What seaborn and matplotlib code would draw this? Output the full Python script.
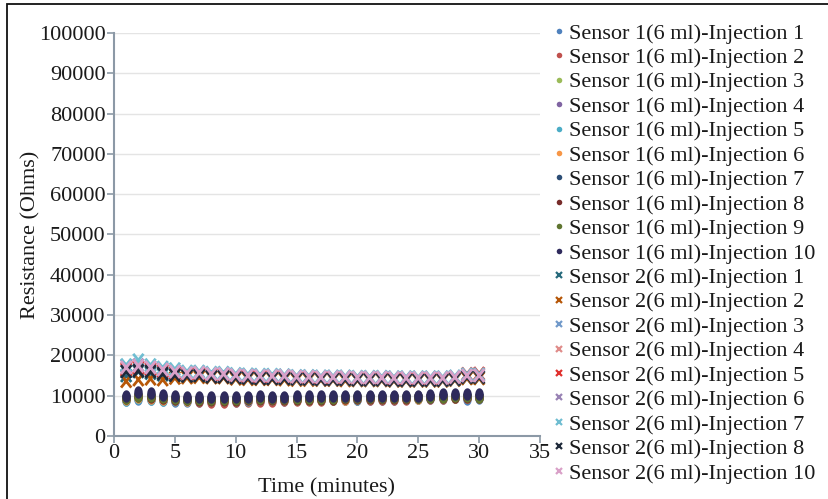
import numpy as np
import pandas as pd
import matplotlib
matplotlib.use("Agg")
import matplotlib.pyplot as plt
from matplotlib.path import Path
from matplotlib.patches import Rectangle
from matplotlib.lines import Line2D
import seaborn as sns

sns.set_theme(style="white")
plt.rcParams['font.family'] = ['Liberation Serif', 'DejaVu Serif']

minutes = list(range(1, 31))

s1_labels = [f"Sensor 1(6 ml)-Injection {i}" for i in range(1, 11)]
s2_labels = [f"Sensor 2(6 ml)-Injection {i}" for i in [1, 2, 3, 4, 5, 6, 7, 8, 10]]

s1_colors = ["#4F81BD", "#C0504D", "#9BBB59", "#8064A2", "#4BACC6",
             "#F79646", "#2C4D75", "#772C2A", "#5F7530", "#2E2A5C"]
s2_colors = ["#276A7C", "#B65708", "#729ACA", "#E08C8A", "#E0302D",
             "#9983B5", "#6FBDD1", "#1F2A3A", "#D9A0C8"]

s1_values = [
    [8900, 9300, 9100, 8900, 8800, 8700, 8800, 8700, 8800, 8800, 8900, 9000, 9000, 9000, 9100, 9100, 9100, 9200, 9200, 9200, 9300, 9300, 9300, 9400, 9400, 9500, 9500, 9600, 9300, 9500],
    [9200, 9600, 9400, 9200, 9000, 8900, 8600, 8500, 8500, 8600, 8700, 8800, 8800, 8900, 8900, 9000, 9000, 9100, 9100, 9100, 9200, 9200, 9300, 9300, 9400, 9500, 9500, 9600, 9700, 9700],
    [9400, 9800, 9600, 9400, 9200, 9100, 9100, 9000, 9100, 9100, 9200, 9200, 9200, 9300, 9300, 9300, 9300, 9400, 9400, 9400, 9500, 9500, 9500, 9500, 9600, 9600, 9700, 9800, 9700, 9700],
    [9500, 10000, 9800, 9500, 9300, 9200, 9200, 9200, 9200, 9200, 9300, 9300, 9300, 9400, 9400, 9400, 9500, 9500, 9500, 9500, 9600, 9600, 9600, 9600, 9700, 9700, 9800, 9900, 9800, 9800],
    [9000, 9400, 9200, 9000, 8900, 8900, 8900, 8900, 8900, 8900, 9000, 9100, 9100, 9100, 9200, 9200, 9200, 9300, 9300, 9300, 9400, 9400, 9400, 9500, 9500, 9600, 9600, 9700, 9600, 9600],
    [9300, 9700, 9500, 9300, 9100, 9000, 9000, 9000, 9000, 9000, 9100, 9100, 9200, 9200, 9200, 9300, 9300, 9300, 9300, 9400, 9400, 9400, 9500, 9500, 9500, 9600, 9600, 9700, 9700, 9700],
    [9600, 10200, 9900, 9600, 9400, 9300, 9300, 9300, 9300, 9300, 9400, 9400, 9400, 9500, 9500, 9500, 9500, 9600, 9600, 9600, 9600, 9700, 9700, 9700, 9800, 9800, 9900, 10000, 9900, 9900],
    [9400, 9900, 9700, 9400, 9200, 9100, 9000, 8900, 8900, 9000, 9100, 9100, 9200, 9200, 9200, 9300, 9300, 9300, 9400, 9400, 9400, 9500, 9500, 9500, 9600, 9600, 9700, 9800, 9800, 9800],
    [9500, 10000, 9900, 9600, 9400, 9300, 9300, 9300, 9300, 9300, 9400, 9400, 9400, 9400, 9500, 9500, 9500, 9500, 9600, 9600, 9600, 9600, 9700, 9700, 9700, 9800, 9800, 9900, 9900, 9800],
    [10000, 11000, 10600, 10200, 9900, 9800, 9700, 9700, 9700, 9700, 9800, 9900, 9800, 9800, 9900, 9900, 9900, 9900, 9900, 9900, 9900, 9900, 9900, 9900, 10000, 10100, 10300, 10500, 10400, 10400],
]

s2_values = [
    [15000, 16000, 15600, 15200, 15000, 14800, 14900, 14700, 14700, 14400, 14300, 14300, 14300, 14200, 14100, 14100, 14000, 14000, 14000, 13900, 13900, 13900, 13800, 13800, 13800, 13800, 13800, 14000, 14400, 14400],
    [13600, 14000, 14200, 14000, 14400, 14500, 14600, 14500, 14500, 14200, 14100, 14100, 14100, 14000, 13900, 13900, 13900, 13900, 13800, 13800, 13800, 13800, 13700, 13700, 13700, 13700, 13700, 13900, 14300, 14300],
    [16000, 16800, 16300, 15800, 15400, 15100, 15200, 14900, 14900, 14600, 14500, 14500, 14400, 14400, 14200, 14200, 14100, 14100, 14100, 14000, 14000, 14000, 13900, 13900, 13900, 13900, 13900, 14100, 14700, 14700],
    [16800, 17200, 16800, 16300, 15800, 15500, 15600, 15300, 15300, 15000, 14900, 14800, 14800, 14800, 14600, 14600, 14500, 14500, 14500, 14400, 14400, 14400, 14300, 14300, 14300, 14300, 14300, 14500, 15100, 15100],
    [16500, 17000, 16600, 16100, 15600, 15300, 15400, 15100, 15100, 14800, 14700, 14700, 14600, 14600, 14400, 14400, 14300, 14300, 14300, 14200, 14200, 14200, 14100, 14100, 14100, 14100, 14100, 14400, 15400, 15500],
    [17400, 17600, 17100, 16600, 16100, 15700, 15800, 15500, 15500, 15200, 15100, 15000, 15000, 15000, 14800, 14800, 14700, 14700, 14700, 14600, 14600, 14600, 14500, 14500, 14500, 14500, 14500, 14700, 15200, 15200],
    [17600, 18800, 17600, 17000, 16600, 16000, 16000, 15700, 15700, 15400, 15300, 15200, 15200, 15100, 14900, 14900, 14800, 14800, 14800, 14700, 14700, 14700, 14600, 14600, 14600, 14600, 14600, 14800, 15300, 15300],
    [16000, 16200, 16000, 15500, 15100, 14900, 15000, 14700, 14700, 14500, 14400, 14300, 14300, 14300, 14200, 14200, 14100, 14100, 14100, 14000, 14000, 14000, 13900, 13900, 13900, 13900, 13900, 14100, 14600, 14600],
    [17000, 17400, 17000, 16500, 16000, 15600, 15700, 15400, 15400, 15100, 15000, 14900, 14900, 14900, 14700, 14700, 14600, 14600, 14600, 14500, 14500, 14500, 14400, 14400, 14400, 14400, 14400, 14600, 15000, 15000],
]

x_ticks = [0, 5, 10, 15, 20, 25, 30, 35]
y_ticks = [0, 10000, 20000, 30000, 40000, 50000, 60000, 70000, 80000, 90000, 100000]

# ellipse marker for sensor 1, stretched X for sensor 2
t = np.linspace(0, 2 * np.pi, 40)
ellipse = Path(np.column_stack([0.68 * np.cos(t), np.sin(t)]), closed=True)
xmark = Path([(-0.8, -1), (0.8, 1), (-0.8, 1), (0.8, -1)],
             [Path.MOVETO, Path.LINETO, Path.MOVETO, Path.LINETO])

fig = plt.figure(figsize=(8.29, 4.99), dpi=100)
ax = fig.add_axes([114 / 829, 1 - 436 / 499, (540 - 114) / 829, (436 - 33) / 499])

for lab, col, vals in zip(s1_labels, s1_colors, s1_values):
    df = pd.DataFrame({"t": minutes, "r": vals})
    sns.scatterplot(data=df, x="t", y="r", ax=ax, color=col, marker=ellipse,
                    s=80, linewidth=0, legend=False, zorder=3)
for lab, col, vals in zip(s2_labels, s2_colors, s2_values):
    df = pd.DataFrame({"t": minutes, "r": vals})
    sns.scatterplot(data=df, x="t", y="r", ax=ax, color=col, marker=xmark,
                    edgecolor=col, facecolor='none',
                    s=85, linewidth=2.0, legend=False, zorder=3)

ax.set_xlim(0, 35)
ax.set_ylim(0, 100000)
ax.set_xticks(x_ticks)
ax.set_yticks(y_ticks)
ax.set_xticklabels([str(v) for v in x_ticks])
ax.set_yticklabels([str(v) for v in y_ticks])
ax.grid(axis='y', color='#e4e4e4', linewidth=1)
ax.grid(axis='x', visible=False)
ax.set_axisbelow(True)
for side in ['top', 'right']:
    ax.spines[side].set_visible(False)
for side in ['left', 'bottom']:
    ax.spines[side].set_color('#8C99A6')
    ax.spines[side].set_linewidth(1.5)
ax.tick_params(axis='both', which='both', direction='out', length=5, width=1.2,
               color='#8C99A6', labelsize=16, labelcolor='#1a1a1a', pad=1,
               left=True, bottom=True)
ax.set_xlabel("Time (minutes)", fontsize=16, color='#1a1a1a', labelpad=11)
ax.set_ylabel("Resistance (Ohms)", fontsize=16, color='#1a1a1a')
ax.yaxis.set_label_coords((40 - 114) / 426, 0.5)

handles = []
for lab, col in zip(s1_labels, s1_colors):
    handles.append(Line2D([], [], linestyle='none', marker='o', markersize=4,
                          markerfacecolor=col, markeredgewidth=0, label=lab))
for lab, col in zip(s2_labels, s2_colors):
    handles.append(Line2D([], [], linestyle='none', marker='x', markersize=5,
                          markeredgecolor=col, markeredgewidth=1.6, label=lab))

leg = fig.legend(handles=handles, loc='upper left',
                 bbox_to_anchor=(553 / 829, 1 - 23 / 499),
                 bbox_transform=fig.transFigure, frameon=True, fontsize=16,
                 labelspacing=0.175, handlelength=0.5, handletextpad=0.2,
                 borderpad=0, borderaxespad=0)
leg.get_frame().set_facecolor('white')
leg.get_frame().set_edgecolor('none')
for txt in leg.get_texts():
    txt.set_color('#1a1a1a')

fig.patches.append(Rectangle((7 / 829, -0.1), 1.1, 1.1 - 4 / 499 + 0.0,
                             transform=fig.transFigure, fill=False,
                             edgecolor='#111111', linewidth=1.3, zorder=10))

fig.savefig("out.png", dpi=100)
